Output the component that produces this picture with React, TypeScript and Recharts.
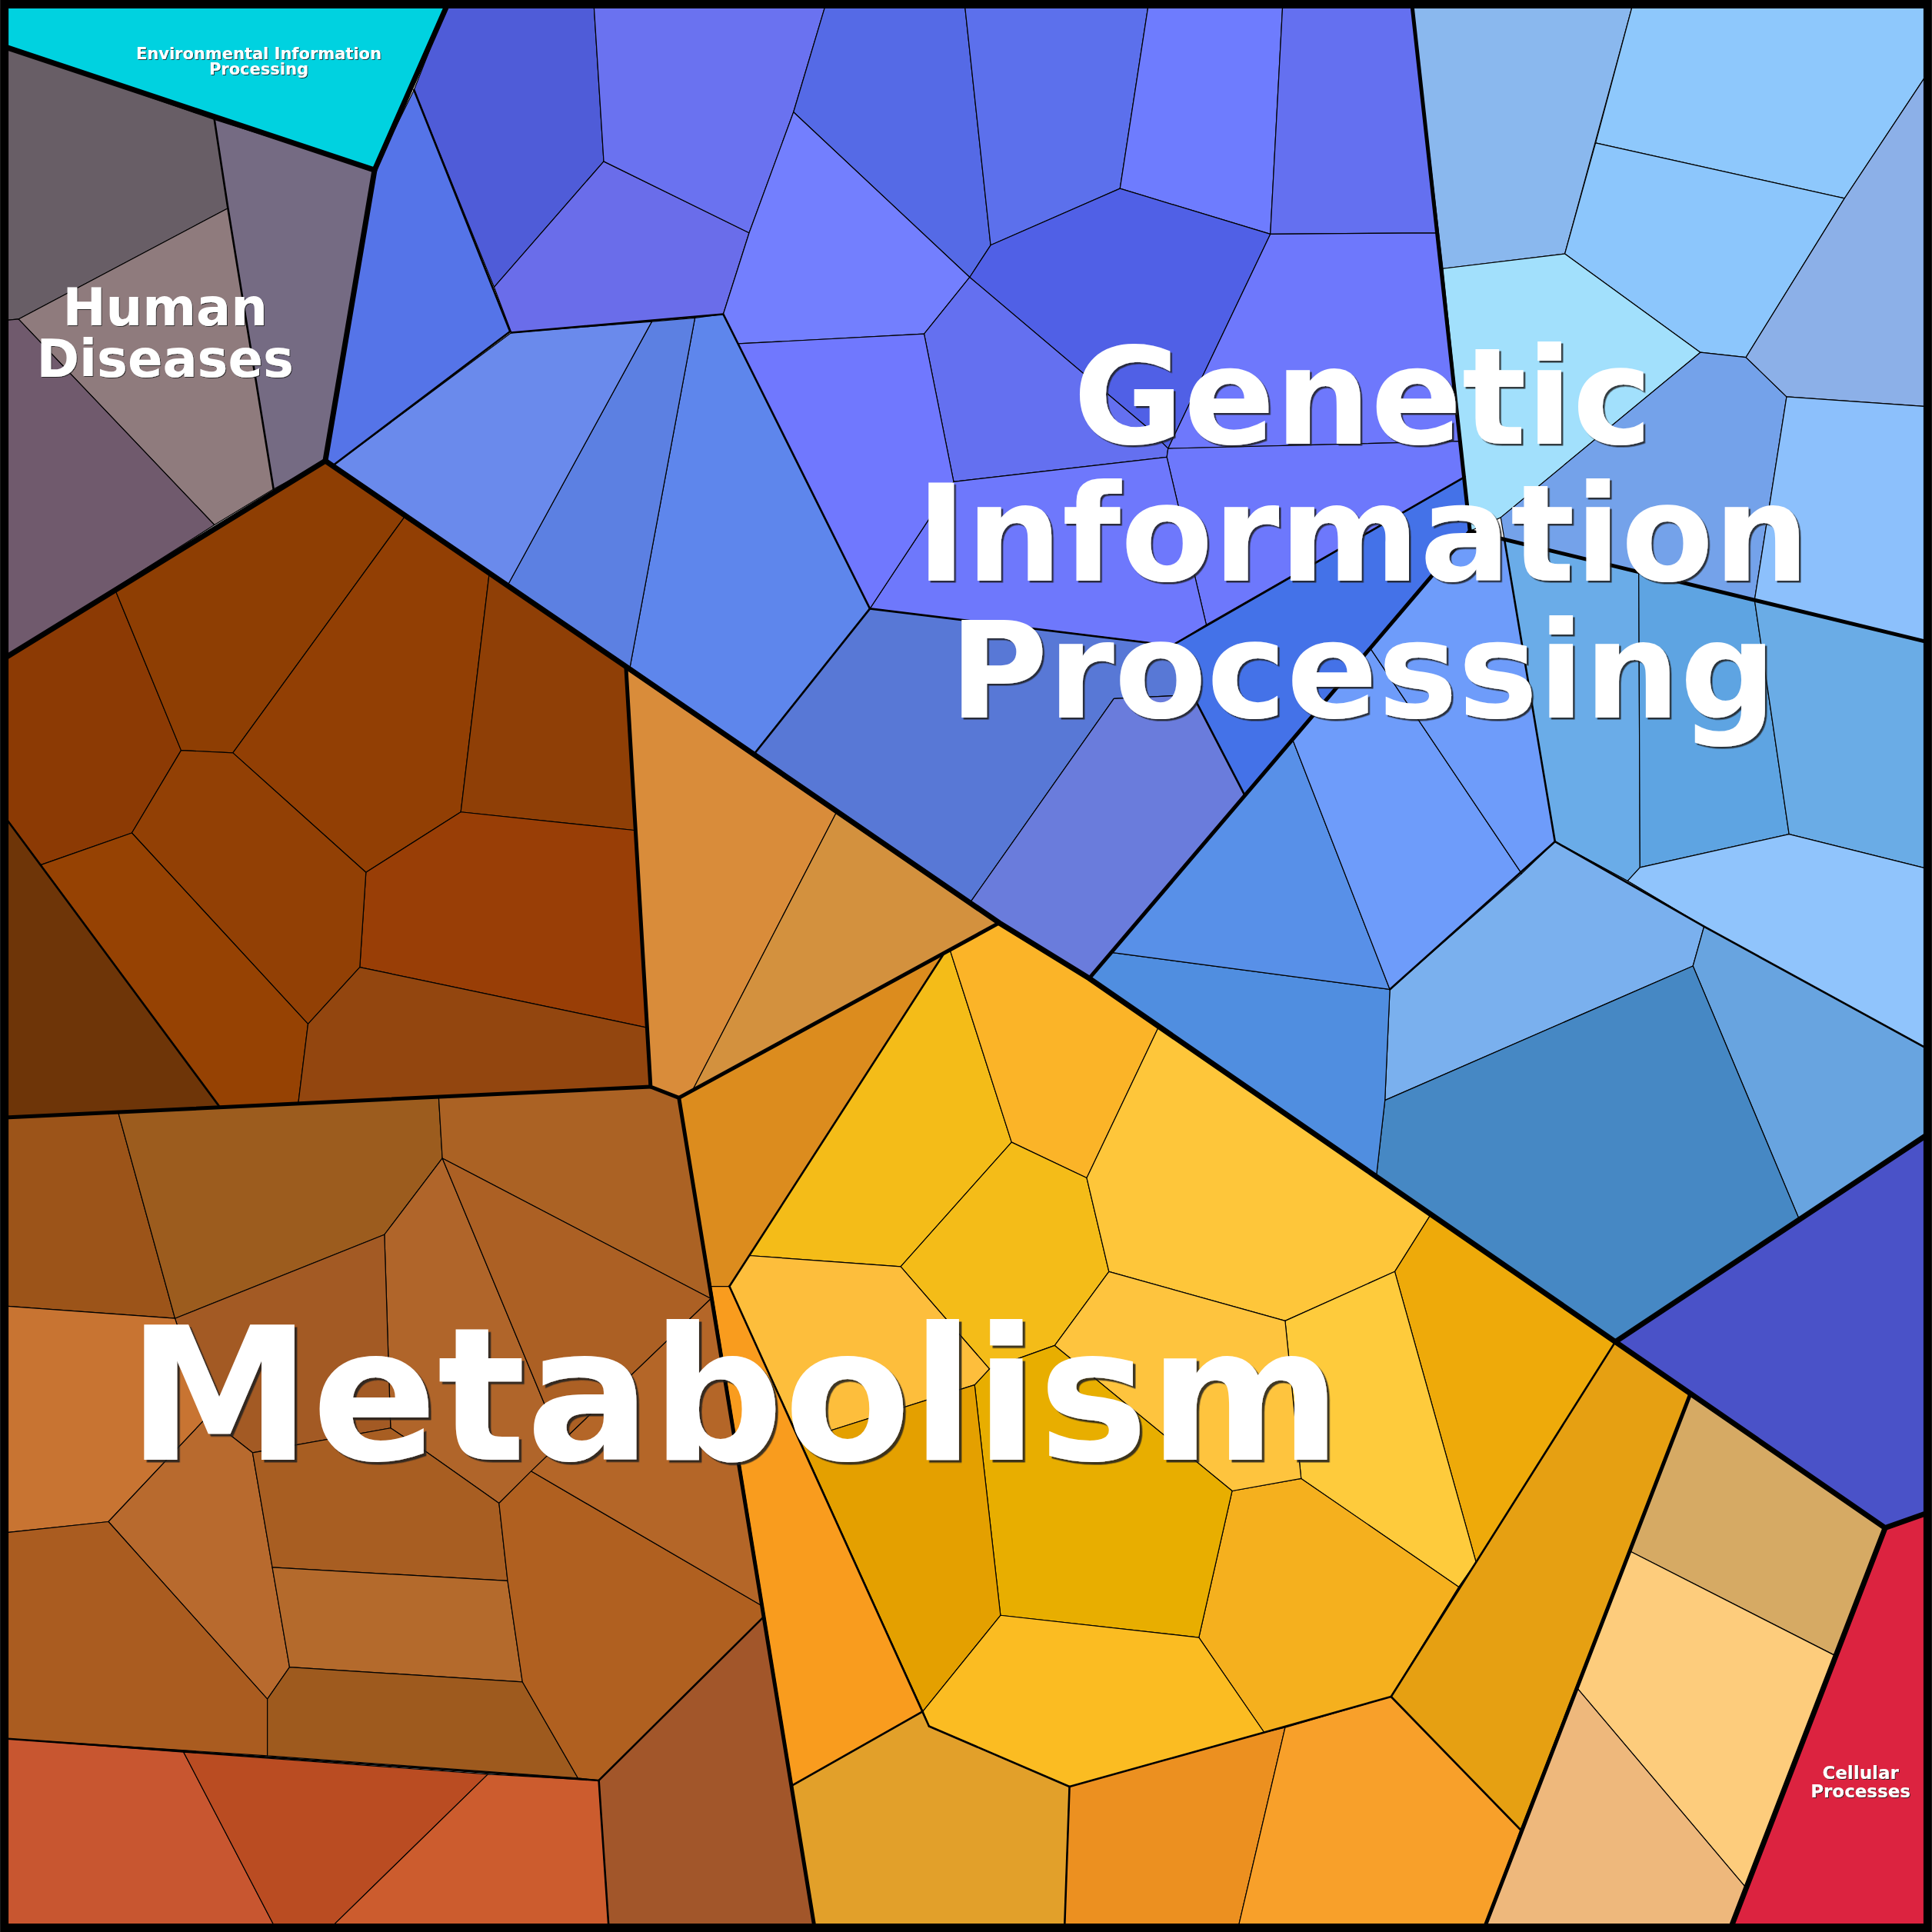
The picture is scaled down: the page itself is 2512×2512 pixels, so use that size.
import { Scatter, ScatterChart, XAxis, YAxis } from 'recharts'

type Pt = [number, number]
interface Cell {
  id: string
  pts: Pt[]
}

// layout space of the treemap (polygon vertices are given in these units)
const UNIT = 1568
const SIZE = 2512

const ENV_CELLS: Cell[] = [{ id: 'env', pts: [[4, 4], [363, 4], [304, 138], [4, 38]] }]

const HUMAN_CELLS: Cell[] = [
  { id: 'h1', pts: [[4, 38], [174, 97], [185, 169], [15, 259], [4, 260]] },
  { id: 'h2', pts: [[174, 97], [304, 138], [264, 374], [222, 397], [185, 169]] },
  { id: 'h3', pts: [[15, 259], [185, 169], [222, 397], [174, 426]] },
  { id: 'h4', pts: [[4, 260], [15, 259], [174, 426], [4, 534]] },
]

const GENETIC_CELLS: Cell[] = [
  { id: 'g1', pts: [[304, 138], [336, 73], [414, 269], [270, 378], [264, 374]] },
  { id: 'g2', pts: [[363, 4], [482, 4], [490, 131], [401, 233], [336, 73]] },
  { id: 'g3', pts: [[490, 131], [608, 189], [587, 255], [415, 270], [401, 233]] },
  { id: 'g4', pts: [[482, 4], [670, 4], [644, 91], [608, 189], [490, 131]] },
  { id: 'g5', pts: [[670, 4], [783, 4], [804, 199], [787, 225], [644, 91]] },
  { id: 'g6', pts: [[644, 91], [787, 225], [750, 271], [599, 279], [587, 255], [608, 189]] },
  { id: 'g7', pts: [[783, 4], [932, 4], [909, 153], [804, 199]] },
  { id: 'g8', pts: [[932, 4], [1041, 4], [1031, 190], [909, 153]] },
  { id: 'g9', pts: [[1041, 4], [1146, 4], [1167, 189], [1031, 190]] },
  { id: 'g10', pts: [[787, 225], [804, 199], [909, 153], [1031, 190], [948, 364], [930, 346]] },
  { id: 'g11', pts: [[750, 271], [787, 225], [930, 346], [948, 364], [947, 371], [774, 391]] },
  { id: 'g12', pts: [[1031, 190], [1167, 189], [1185, 358], [948, 364]] },
  { id: 'g13', pts: [[948, 364], [1185, 358], [1189, 387], [979, 507], [947, 371]] },
  { id: 'g14', pts: [[951, 524], [1189, 387], [1193, 431], [1010, 645], [968, 564]] },
  { id: 'g15', pts: [[774, 391], [947, 371], [979, 507], [951, 524], [706, 494]] },
  { id: 'g16', pts: [[599, 279], [750, 271], [774, 391], [706, 494]] },
  { id: 'g17', pts: [[564, 258], [587, 255], [599, 279], [706, 494], [612, 612], [511, 543]] },
  { id: 'g18', pts: [[529, 261], [564, 258], [511, 543], [412, 475]] },
  { id: 'g19', pts: [[415, 270], [529, 261], [412, 475], [270, 378]] },
  { id: 'g20', pts: [[706, 494], [951, 524], [968, 564], [904, 567], [787, 733], [612, 612]] },
  { id: 'g21', pts: [[904, 567], [968, 564], [1010, 645], [884, 794], [811, 749], [787, 733]] },
]

const GENETIC_LIGHT_CELLS: Cell[] = [
  { id: 'l1', pts: [[1146, 4], [1325, 4], [1270, 206], [1171, 218]] },
  { id: 'l2', pts: [[1325, 4], [1564, 4], [1564, 60], [1497, 161], [1295, 116]] },
  { id: 'l3', pts: [[1295, 116], [1497, 161], [1417, 290], [1380, 286], [1270, 206]] },
  { id: 'l4', pts: [[1171, 218], [1270, 206], [1380, 286], [1218, 420], [1193, 431]] },
  { id: 'l5', pts: [[1380, 286], [1417, 290], [1450, 322], [1424, 487], [1221, 438], [1218, 420]] },
  { id: 'l6', pts: [[1564, 60], [1564, 330], [1450, 322], [1417, 290], [1497, 161]] },
  { id: 'l7', pts: [[1450, 322], [1564, 330], [1564, 521], [1424, 487]] },
  { id: 'l8', pts: [[1221, 438], [1330, 464], [1331, 704], [1321, 715], [1262, 683]] },
  { id: 'l9', pts: [[1330, 464], [1424, 487], [1452, 677], [1331, 704]] },
  { id: 'l10', pts: [[1424, 487], [1564, 521], [1564, 705], [1452, 677]] },
  { id: 'l11', pts: [[1331, 704], [1452, 677], [1564, 705], [1564, 851], [1383, 752], [1321, 715]] },
  { id: 'l12', pts: [[1262, 683], [1321, 715], [1383, 752], [1374, 784], [1124, 893], [1128, 803]] },
  { id: 'l13', pts: [[1383, 752], [1564, 851], [1564, 921], [1460, 989], [1374, 784]] },
  { id: 'l14', pts: [[1124, 893], [1374, 784], [1460, 989], [1311, 1089], [1117, 955]] },
  { id: 'l15', pts: [[902, 773], [1128, 803], [1124, 893], [1117, 955], [884, 794]] },
  { id: 'l16', pts: [[902, 773], [1010, 645], [1049, 600], [1128, 803]] },
  { id: 'l17', pts: [[1049, 600], [1112, 526], [1235, 709], [1128, 803]] },
  { id: 'l18', pts: [[1112, 526], [1193, 431], [1221, 438], [1262, 683], [1235, 709]] },
]

const ORGANISMAL_CELLS: Cell[] = [{ id: 'org', pts: [[1311, 1089], [1564, 921], [1564, 1228], [1530, 1240]] }]

const CELLULAR_CELLS: Cell[] = [{ id: 'cell', pts: [[1530, 1240], [1564, 1228], [1564, 1564], [1405, 1564]] }]

const METABOLISM_DARK: Cell[] = [
  { id: 'a1', pts: [[4, 534], [94, 480], [147, 609], [107, 676], [33, 702], [4, 663]] },
  { id: 'a2', pts: [[94, 480], [264, 374], [328, 420], [189, 611], [147, 609]] },
  { id: 'a3', pts: [[328, 420], [397, 466], [374, 659], [297, 708], [189, 611]] },
  { id: 'a4', pts: [[397, 466], [508, 541], [516, 674], [374, 659]] },
  { id: 'a5', pts: [[374, 659], [516, 674], [525, 834], [292, 785], [297, 708]] },
  { id: 'a6', pts: [[147, 609], [189, 611], [297, 708], [292, 785], [250, 831], [107, 676]] },
  { id: 'a7', pts: [[107, 676], [250, 831], [242, 896], [178, 898], [33, 702]] },
  { id: 'a8', pts: [[292, 785], [525, 834], [528, 882], [242, 896], [250, 831]] },
  { id: 'a9', pts: [[4, 663], [33, 702], [178, 898], [4, 907]] },
]

const METABOLISM_LIGHT: Cell[] = [
  { id: 'b1', pts: [[508, 541], [679, 659], [562, 885], [551, 891], [528, 882]] },
  { id: 'b2', pts: [[679, 659], [811, 749], [551, 891], [562, 885]] },
]

const METABOLISM_YELLOW: Cell[] = [
  { id: 'd1', pts: [[551, 891], [766, 774], [592, 1044], [577, 1044]] },
  { id: 'y1', pts: [[766, 774], [771, 771], [821, 927], [731, 1028], [608, 1019]] },
  { id: 'y2', pts: [[771, 771], [811, 749], [941, 832], [882, 956], [821, 927]] },
  { id: 'y3', pts: [[821, 927], [882, 956], [900, 1032], [856, 1092], [803, 1111], [731, 1028]] },
  { id: 'y4', pts: [[941, 832], [1161, 986], [1132, 1032], [1043, 1072], [900, 1032], [882, 956]] },
  { id: 'y5', pts: [[1161, 986], [1311, 1089], [1198, 1268], [1132, 1032]] },
  { id: 'y6', pts: [[1043, 1072], [1132, 1032], [1198, 1268], [1184, 1288], [1056, 1200]] },
  { id: 'y7', pts: [[1000, 1210], [1056, 1200], [1184, 1288], [1129, 1377], [1043, 1402], [1026, 1406], [973, 1329]] },
  { id: 'y8', pts: [[900, 1032], [1043, 1072], [1056, 1200], [1000, 1210], [856, 1092]] },
  { id: 'y9', pts: [[803, 1111], [856, 1092], [1000, 1210], [973, 1329], [812, 1311], [791, 1124]] },
  { id: 'y10', pts: [[608, 1019], [731, 1028], [803, 1111], [791, 1124], [649, 1169], [592, 1044]] },
  { id: 'y11', pts: [[649, 1169], [791, 1124], [812, 1311], [749, 1389]] },
  { id: 'y12', pts: [[812, 1311], [973, 1329], [1026, 1406], [868, 1450], [754, 1401], [749, 1389]] },
  { id: 'o1', pts: [[577, 1044], [592, 1044], [649, 1169], [749, 1389], [643, 1449]] },
  { id: 'bt1', pts: [[643, 1449], [749, 1389], [754, 1401], [868, 1450], [864, 1564], [661, 1564]] },
  { id: 'bt2', pts: [[868, 1450], [1026, 1406], [1043, 1402], [1005, 1564], [864, 1564]] },
  { id: 'bt3', pts: [[1043, 1402], [1129, 1377], [1234, 1485], [1205, 1564], [1005, 1564]] },
  { id: 'e1', pts: [[1311, 1089], [1372, 1131], [1234, 1485], [1129, 1377], [1184, 1288], [1198, 1268]] },
]

const METABOLISM_TAN: Cell[] = [
  { id: 't1', pts: [[1372, 1131], [1530, 1240], [1490, 1344], [1323, 1259]] },
  { id: 't2', pts: [[1323, 1259], [1490, 1344], [1417, 1532], [1280, 1370]] },
  { id: 't3', pts: [[1280, 1370], [1417, 1532], [1405, 1564], [1205, 1564]] },
]

const METABOLISM_BROWN: Cell[] = [
  { id: 'c1', pts: [[4, 907], [96, 903], [142, 1070], [4, 1060]] },
  { id: 'c2', pts: [[96, 903], [356, 890], [359, 940], [312, 1002], [142, 1070]] },
  { id: 'c3', pts: [[356, 890], [528, 882], [551, 891], [577, 1054], [359, 940]] },
  { id: 'c4', pts: [[312, 1002], [359, 940], [455, 1171], [405, 1220], [344, 1177], [317, 1159]] },
  { id: 'c5', pts: [[359, 940], [577, 1054], [455, 1171]] },
  { id: 'c6', pts: [[142, 1070], [312, 1002], [317, 1159], [205, 1179], [168, 1150]] },
  { id: 'c7', pts: [[4, 1060], [142, 1070], [168, 1150], [88, 1235], [4, 1244]] },
  { id: 'c8', pts: [[168, 1150], [205, 1179], [235, 1353], [217, 1379], [88, 1235]] },
  { id: 'c9', pts: [[205, 1179], [317, 1159], [344, 1177], [405, 1220], [412, 1283], [221, 1272]] },
  { id: 'c10', pts: [[221, 1272], [412, 1283], [424, 1365], [235, 1353]] },
  { id: 'c11', pts: [[4, 1244], [88, 1235], [217, 1379], [217, 1425], [4, 1411]] },
  { id: 'c12', pts: [[235, 1353], [424, 1365], [469, 1443], [217, 1425], [217, 1379]] },
  { id: 'c13', pts: [[405, 1220], [431, 1194], [618, 1303], [620, 1312], [486, 1445], [469, 1443], [424, 1365], [412, 1283]] },
  { id: 'c14', pts: [[431, 1194], [455, 1171], [577, 1054], [618, 1303]] },
  { id: 'c15', pts: [[486, 1445], [620, 1312], [661, 1564], [494, 1564]] },
  { id: 'c16', pts: [[4, 1411], [149, 1422], [223, 1564], [4, 1564]] },
  { id: 'c17', pts: [[149, 1422], [396, 1440], [269, 1564], [223, 1564]] },
  { id: 'c18', pts: [[396, 1440], [486, 1445], [494, 1564], [269, 1564]] },
]

const COLORS: Record<string, string> = {
  env: '#00d2e0',
  h1: '#685e66', h2: '#756b83', h3: '#8f7b7d', h4: '#705a6d',
  g1: '#5574e8', g2: '#4f5cd8', g3: '#6a6dea', g4: '#6a72f0', g5: '#556ae6', g6: '#737ffe',
  g7: '#5c70ec', g8: '#6e7cfe', g9: '#6470f0', g10: '#5060e6', g11: '#6470f0', g12: '#6e78fc',
  g13: '#6d78fc', g14: '#4472e8', g15: '#6e78fc', g16: '#7078fe', g17: '#5e86ec', g18: '#5c80e2',
  g19: '#6a8aec', g20: '#5878d6', g21: '#6a7cdc',
  l1: '#8ab8ee', l2: '#8ec8fc', l3: '#8cc6fc', l4: '#a2e0fc', l5: '#74a2ea', l6: '#8cb0e8',
  l7: '#8cc0fc', l8: '#6aace8', l9: '#5ea4e2', l10: '#6aace6', l11: '#90c4fc', l12: '#7ab0ee',
  l13: '#68a4e0', l14: '#4688c4', l15: '#508ee0', l16: '#5890e8', l17: '#6e9cfa', l18: '#6e9cfa',
  org: '#4a52c8',
  cell: '#dc2340',
  a1: '#8c3a04', a2: '#8e3e03', a3: '#923f04', a4: '#8f3f06', a5: '#993e06', a6: '#924005',
  a7: '#964203', a8: '#93460f', a9: '#6e3508',
  b1: '#d98c3a', b2: '#d3913e',
  d1: '#dc8c1e', y1: '#f4bc18', y2: '#fbb428', y3: '#f4bc18', y4: '#fec63a', y5: '#eeaa0a',
  y6: '#fecb3c', y7: '#f5b01e', y8: '#fec43e', y9: '#e8ae00', y10: '#fdbe3c', y11: '#e4a000',
  y12: '#fbbc22', o1: '#f99c1e', bt1: '#e2a02a', bt2: '#ec9020', bt3: '#f8a02a', e1: '#e6a012',
  t1: '#d6aa64', t2: '#fdcc7c', t3: '#eeb87c',
  c1: '#9c5419', c2: '#9c5c1e', c3: '#ab6224', c4: '#b0652a', c5: '#ac6024', c6: '#a35a24',
  c7: '#c87432', c8: '#b86a2e', c9: '#a85e22', c10: '#b46a2c', c11: '#aa5c20', c12: '#9e5a1e',
  c13: '#b06020', c14: '#b46628', c15: '#a2562a', c16: '#c85630', c17: '#ba4c22', c18: '#cc5c2e',
}

// borders between top-level categories
const CATEGORY_EDGES: Pt[][] = [
  [[4, 38], [304, 138], [363, 4]],
  [[304, 138], [264, 374]],
  [[4, 534], [264, 374], [508, 541], [811, 749], [884, 794], [1311, 1089], [1530, 1240], [1564, 1228]],
  [[1311, 1089], [1564, 921]],
  [[1530, 1240], [1405, 1564]],
]

// borders between groups inside a category
const GROUP_EDGES: Pt[][] = [
  [[1146, 4], [1193, 431], [1564, 521]],
  [[884, 794], [1193, 431]],
  [[508, 541], [528, 882], [551, 891], [661, 1564]],
  [[4, 907], [528, 882]],
  [[551, 891], [811, 749]],
  [[1372, 1131], [1205, 1564]],
]

const SUBGROUP_EDGES: Pt[][] = [
  [[174, 97], [185, 169], [222, 397]],
  [[336, 73], [414, 269], [270, 378]],
  [[415, 270], [587, 255], [599, 279], [706, 494], [951, 524], [1189, 387]],
  [[968, 564], [1010, 645]],
  [[706, 494], [612, 612]],
  [[1262, 683], [1221, 438]],
  [[1128, 803], [1262, 683], [1383, 752], [1564, 851]],
  [[4, 663], [178, 898]],
  [[766, 774], [592, 1044]],
  [[592, 1044], [754, 1401]],
  [[749, 1389], [643, 1449]],
  [[754, 1401], [868, 1450], [1026, 1406], [1129, 1377], [1234, 1485]],
  [[868, 1450], [864, 1564]],
  [[1311, 1089], [1129, 1377]],
  [[4, 1411], [486, 1445], [620, 1312]],
  [[486, 1445], [494, 1564]],
]

const FRAME: Pt[] = [[3.5, 3.5], [1564.5, 3.5], [1564.5, 1564.5], [3.5, 1564.5], [3.5, 3.5], [1564.5, 3.5]]

const LABEL_TEXT: Record<string, string[]> = {
  env: ['Environmental Information', 'Processing'],
  human: ['Human', 'Diseases'],
  genetic: ['Genetic', 'Information', 'Processing'],
  metabolism: ['Metabolism'],
  cellular: ['Cellular', 'Processes'],
}
const LABEL_ANCHORS = [
  { id: 'env', x: 210, y: 48 },
  { id: 'human', x: 134, y: 264 },
  { id: 'genetic', x: 1106, y: 360 },
  { id: 'metabolism', x: 596, y: 1185 },
  { id: 'cellular', x: 1510, y: 1444 },
]
const LABEL_FONT: Record<string, { size: number; lineHeight: number }> = {
  env: { size: 21, lineHeight: 20 },
  human: { size: 67, lineHeight: 67 },
  genetic: { size: 175, lineHeight: 178 },
  metabolism: { size: 241, lineHeight: 241 },
  cellular: { size: 23, lineHeight: 24 },
}

const ALL_CELLS: Cell[] = [
  ...ENV_CELLS,
  ...HUMAN_CELLS,
  ...GENETIC_CELLS,
  ...GENETIC_LIGHT_CELLS,
  ...ORGANISMAL_CELLS,
  ...CELLULAR_CELLS,
  ...METABOLISM_DARK,
  ...METABOLISM_LIGHT,
  ...METABOLISM_YELLOW,
  ...METABOLISM_TAN,
  ...METABOLISM_BROWN,
]

const toRows = (pts: Pt[], close = false) => {
  const list = close ? [...pts, pts[0]] : pts
  return list.map(([x, y]) => ({ x, y }))
}

const NoDot = () => <g />

function LabelMark(props: any) {
  const { cx, cy, payload } = props
  if (cx == null || cy == null || !payload) return <g />
  const lines = LABEL_TEXT[payload.id] ?? []
  const { size, lineHeight } = LABEL_FONT[payload.id]
  const fid = `shadow-${payload.id}`
  const off = Math.max(1, size / 70)
  return (
    <g>
      <defs>
        <filter id={fid} x="-10%" y="-10%" width="120%" height="130%">
          <feDropShadow dx={off} dy={off} stdDeviation={0.3} floodColor="#222" floodOpacity={0.85} />
        </filter>
      </defs>
      <text
        x={cx}
        y={cy}
        fontFamily="'DejaVu Sans', sans-serif"
        fontWeight="bold"
        fontSize={size}
        textAnchor="middle"
        fill="#ffffff"
        filter={`url(#${fid})`}
      >
        {lines.map((t, i) => (
          <tspan key={t} x={cx} dy={i === 0 ? 0 : lineHeight}>
            {t}
          </tspan>
        ))}
      </text>
    </g>
  )
}

function edgeSeries(edges: Pt[][], width: number, prefix: string) {
  return edges.map((pts, i) => (
    <Scatter
      key={`${prefix}-${i}`}
      data={toRows(pts)}
      fill="#000"
      shape={NoDot}
      legendType="none"
      isAnimationActive={false}
      line={{ fill: 'none', stroke: '#000', strokeWidth: width, strokeLinejoin: 'round', strokeLinecap: 'round' }}
    />
  ))
}

export default function App() {
  return (
    <div style={{ position: 'absolute', left: 0, top: 0, width: SIZE, height: SIZE, background: '#fff' }}>
      <ScatterChart width={SIZE} height={SIZE} margin={{ top: 0, right: 0, bottom: 0, left: 0 }}>
        <XAxis type="number" dataKey="x" domain={[0, UNIT]} allowDataOverflow hide />
        <YAxis type="number" dataKey="y" domain={[0, UNIT]} allowDataOverflow reversed hide />
        {ALL_CELLS.map((c) => (
          <Scatter
            key={c.id}
            data={toRows(c.pts, true)}
            fill={COLORS[c.id]}
            shape={NoDot}
            legendType="none"
            isAnimationActive={false}
            line={{ fill: COLORS[c.id], stroke: '#000', strokeWidth: 1.2, strokeLinejoin: 'round' }}
          />
        ))}
        {edgeSeries(SUBGROUP_EDGES, 2.6, 'sub')}
        {edgeSeries(GROUP_EDGES, 5, 'grp')}
        {edgeSeries(CATEGORY_EDGES, 7, 'cat')}
        <Scatter
          data={toRows(FRAME)}
          fill="#000"
          shape={NoDot}
          legendType="none"
          isAnimationActive={false}
          line={{ fill: 'none', stroke: '#000', strokeWidth: 11, strokeLinejoin: 'miter' }}
        />
        <Scatter data={LABEL_ANCHORS} shape={LabelMark} legendType="none" isAnimationActive={false} />
      </ScatterChart>
    </div>
  )
}
